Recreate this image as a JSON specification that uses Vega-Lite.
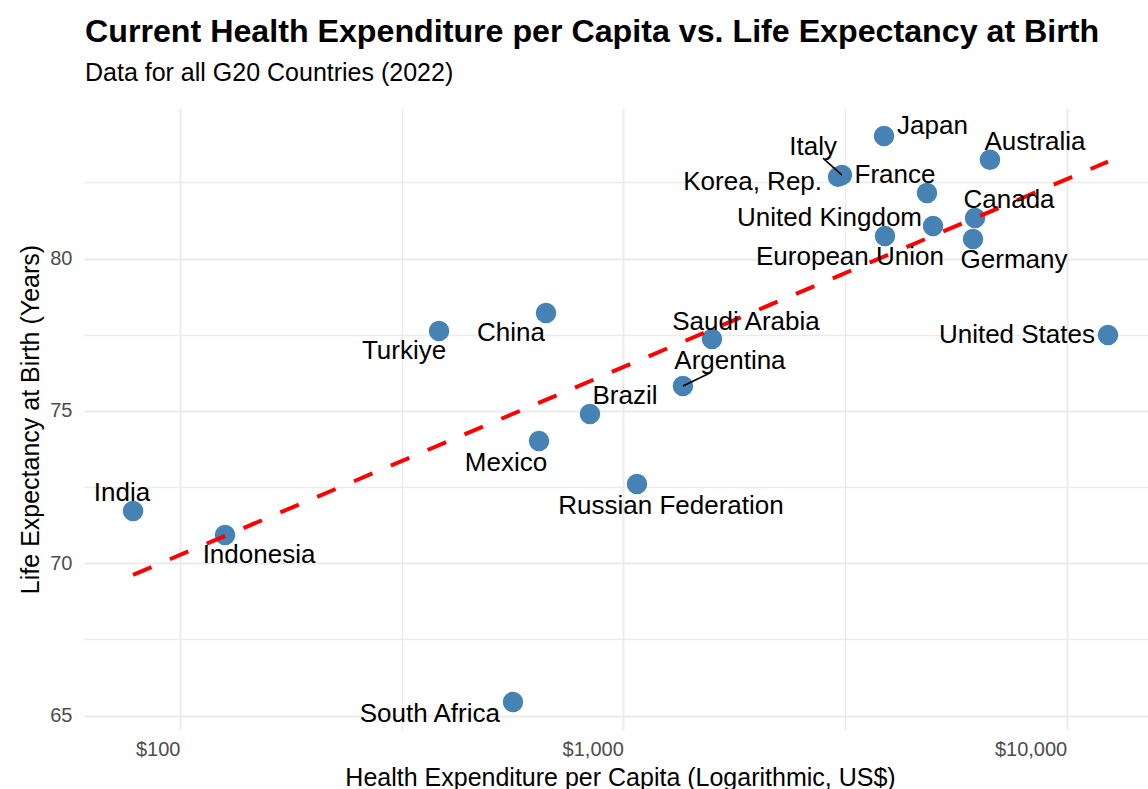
{
  "$schema": "https://vega.github.io/schema/vega-lite/v6.json",
  "width": 1064,
  "height": 622,
  "autosize": "none",
  "padding": {"left": 84, "top": 108, "right": 0, "bottom": 59},
  "background": "white",
  "title": {
    "text": "Current Health Expenditure per Capita vs. Life Expectancy at Birth",
    "subtitle": "Data for all G20 Countries (2022)",
    "anchor": "start",
    "frame": "group",
    "font": "Liberation Sans",
    "fontSize": 32.2,
    "fontWeight": "bold",
    "color": "#000000",
    "subtitleFont": "Liberation Sans",
    "subtitleFontSize": 25,
    "subtitleColor": "#000000",
    "subtitlePadding": 12,
    "offset": 21,
    "dx": 1
  },
  "config": {
    "view": {"stroke": null},
    "axis": {
      "labelFont": "Liberation Sans",
      "titleFont": "Liberation Sans",
      "labelColor": "#4d4d4d",
      "titleColor": "#000000",
      "labelFontSize": 20,
      "titleFontSize": 25,
      "titleFontWeight": "normal",
      "domain": false,
      "ticks": false,
      "gridColor": "#ebebeb"
    }
  },
  "datasets": {
    "countries": [
      {"country": "India", "expenditure": 78.4, "life": 71.72},
      {"country": "Indonesia", "expenditure": 126.4, "life": 70.93},
      {"country": "Turkiye", "expenditure": 384.1, "life": 77.62},
      {"country": "China", "expenditure": 669.4, "life": 78.21},
      {"country": "Mexico", "expenditure": 645.5, "life": 74.01},
      {"country": "Brazil", "expenditure": 841.1, "life": 74.9},
      {"country": "South Africa", "expenditure": 563.9, "life": 65.45},
      {"country": "Russian Federation", "expenditure": 1073.7, "life": 72.6},
      {"country": "Argentina", "expenditure": 1363.1, "life": 75.82},
      {"country": "Saudi Arabia", "expenditure": 1584.9, "life": 77.36},
      {"country": "United States", "expenditure": 12393, "life": 77.49},
      {"country": "Korea, Rep.", "expenditure": 3050, "life": 82.68},
      {"country": "Italy", "expenditure": 3113, "life": 82.74},
      {"country": "Japan", "expenditure": 3873, "life": 84.02},
      {"country": "France", "expenditure": 4841, "life": 82.15},
      {"country": "Australia", "expenditure": 6714, "life": 83.24},
      {"country": "Canada", "expenditure": 6213, "life": 81.33},
      {"country": "United Kingdom", "expenditure": 4995, "life": 81.07},
      {"country": "European Union", "expenditure": 3892, "life": 80.74},
      {"country": "Germany", "expenditure": 6149, "life": 80.64}
    ],
    "fit": [
      {"expenditure": 78.4, "life": 69.62},
      {"expenditure": 12393, "life": 83.18}
    ]
  },
  "data": {"name": "countries"},
  "encoding": {
    "x": {
      "field": "expenditure",
      "type": "quantitative",
      "scale": {"type": "log", "domain": [60.77, 15255], "nice": false, "zero": false},
      "axis": {
        "title": "Health Expenditure per Capita (Logarithmic, US$)",
        "values": [100, 316.228, 1000, 3162.28, 10000],
        "labelExpr": "datum.value == 100 ? '$100' : datum.value == 1000 ? '$1,000' : datum.value == 10000 ? '$10,000' : ''",
        "labelAlign": "right",
        "labelPadding": 9,
        "titlePadding": 6,
        "titleX": 536,
        "gridWidth": {"condition": {"test": "datum.value == 100 || datum.value == 1000 || datum.value == 10000", "value": 2}, "value": 1.4}
      }
    },
    "y": {
      "field": "life",
      "type": "quantitative",
      "scale": {"domain": [64.53, 84.94], "nice": false, "zero": false},
      "axis": {
        "title": "Life Expectancy at Birth (Years)",
        "values": [65, 67.5, 70, 72.5, 75, 77.5, 80, 82.5],
        "labelExpr": "datum.value % 5 == 0 ? datum.label : ''",
        "labelPadding": 12,
        "titlePadding": 6,
        "gridWidth": {"condition": {"test": "datum.value % 5 == 0", "value": 2}, "value": 1.4}
      }
    }
  },
  "layer": [
    {"mark": {"type": "circle", "size": 420, "color": "#4682B4", "opacity": 1}},
    {"data": {"name": "fit"}, "mark": {"type": "line", "color": "#FF0000", "strokeWidth": 4, "strokeDash": [20, 20]}},
    {"transform": [{"filter": "datum.country == 'Italy'"}], "mark": {"type": "rule", "color": "#000000", "strokeWidth": 1.6, "x2Offset": -19, "y2Offset": -17}, "encoding": {"x2": {"field": "expenditure"}, "y2": {"field": "life"}}},
    {"transform": [{"filter": "datum.country == 'Argentina'"}], "mark": {"type": "rule", "color": "#000000", "strokeWidth": 1.6, "x2Offset": 27, "y2Offset": -13}, "encoding": {"x2": {"field": "expenditure"}, "y2": {"field": "life"}}},
    {"transform": [{"filter": "datum.country == 'Japan'"}], "mark": {"type": "text", "align": "left", "baseline": "middle", "dx": 13, "dy": -10, "font": "Liberation Sans", "fontSize": 26, "color": "#000000"}, "encoding": {"text": {"field": "country"}}},
    {"transform": [{"filter": "datum.country == 'Australia'"}], "mark": {"type": "text", "align": "center", "baseline": "middle", "dx": 45, "dy": -18, "font": "Liberation Sans", "fontSize": 26, "color": "#000000"}, "encoding": {"text": {"field": "country"}}},
    {"transform": [{"filter": "datum.country == 'Italy'"}], "mark": {"type": "text", "align": "right", "baseline": "middle", "dx": -5, "dy": -28, "font": "Liberation Sans", "fontSize": 26, "color": "#000000"}, "encoding": {"text": {"field": "country"}}},
    {"transform": [{"filter": "datum.country == 'Korea, Rep.'"}], "mark": {"type": "text", "align": "right", "baseline": "middle", "dx": -16, "dy": 5, "font": "Liberation Sans", "fontSize": 26, "color": "#000000"}, "encoding": {"text": {"field": "country"}}},
    {"transform": [{"filter": "datum.country == 'France'"}], "mark": {"type": "text", "align": "center", "baseline": "middle", "dx": -32, "dy": -18, "font": "Liberation Sans", "fontSize": 26, "color": "#000000"}, "encoding": {"text": {"field": "country"}}},
    {"transform": [{"filter": "datum.country == 'Canada'"}], "mark": {"type": "text", "align": "center", "baseline": "middle", "dx": 34, "dy": -18, "font": "Liberation Sans", "fontSize": 26, "color": "#000000"}, "encoding": {"text": {"field": "country"}}},
    {"transform": [{"filter": "datum.country == 'United Kingdom'"}], "mark": {"type": "text", "align": "right", "baseline": "middle", "dx": -11, "dy": -8, "font": "Liberation Sans", "fontSize": 26, "color": "#000000"}, "encoding": {"text": {"field": "country"}}},
    {"transform": [{"filter": "datum.country == 'European Union'"}], "mark": {"type": "text", "align": "center", "baseline": "middle", "dx": -35, "dy": 21, "font": "Liberation Sans", "fontSize": 26, "color": "#000000"}, "encoding": {"text": {"field": "country"}}},
    {"transform": [{"filter": "datum.country == 'Germany'"}], "mark": {"type": "text", "align": "center", "baseline": "middle", "dx": 41, "dy": 21, "font": "Liberation Sans", "fontSize": 26, "color": "#000000"}, "encoding": {"text": {"field": "country"}}},
    {"transform": [{"filter": "datum.country == 'United States'"}], "mark": {"type": "text", "align": "right", "baseline": "middle", "dx": -13, "dy": 0, "font": "Liberation Sans", "fontSize": 26, "color": "#000000"}, "encoding": {"text": {"field": "country"}}},
    {"transform": [{"filter": "datum.country == 'Saudi Arabia'"}], "mark": {"type": "text", "align": "center", "baseline": "middle", "dx": 34, "dy": -17, "font": "Liberation Sans", "fontSize": 26, "color": "#000000"}, "encoding": {"text": {"field": "country"}}},
    {"transform": [{"filter": "datum.country == 'Argentina'"}], "mark": {"type": "text", "align": "center", "baseline": "middle", "dx": 47, "dy": -25, "font": "Liberation Sans", "fontSize": 26, "color": "#000000"}, "encoding": {"text": {"field": "country"}}},
    {"transform": [{"filter": "datum.country == 'Brazil'"}], "mark": {"type": "text", "align": "center", "baseline": "middle", "dx": 35, "dy": -18, "font": "Liberation Sans", "fontSize": 26, "color": "#000000"}, "encoding": {"text": {"field": "country"}}},
    {"transform": [{"filter": "datum.country == 'Mexico'"}], "mark": {"type": "text", "align": "center", "baseline": "middle", "dx": -33, "dy": 22, "font": "Liberation Sans", "fontSize": 26, "color": "#000000"}, "encoding": {"text": {"field": "country"}}},
    {"transform": [{"filter": "datum.country == 'China'"}], "mark": {"type": "text", "align": "center", "baseline": "middle", "dx": -35, "dy": 20, "font": "Liberation Sans", "fontSize": 26, "color": "#000000"}, "encoding": {"text": {"field": "country"}}},
    {"transform": [{"filter": "datum.country == 'Turkiye'"}], "mark": {"type": "text", "align": "center", "baseline": "middle", "dx": -35, "dy": 20, "font": "Liberation Sans", "fontSize": 26, "color": "#000000"}, "encoding": {"text": {"field": "country"}}},
    {"transform": [{"filter": "datum.country == 'Russian Federation'"}], "mark": {"type": "text", "align": "center", "baseline": "middle", "dx": 34, "dy": 22, "font": "Liberation Sans", "fontSize": 26, "color": "#000000"}, "encoding": {"text": {"field": "country"}}},
    {"transform": [{"filter": "datum.country == 'South Africa'"}], "mark": {"type": "text", "align": "right", "baseline": "middle", "dx": -13, "dy": 12, "font": "Liberation Sans", "fontSize": 26, "color": "#000000"}, "encoding": {"text": {"field": "country"}}},
    {"transform": [{"filter": "datum.country == 'India'"}], "mark": {"type": "text", "align": "center", "baseline": "middle", "dx": -11, "dy": -18, "font": "Liberation Sans", "fontSize": 26, "color": "#000000"}, "encoding": {"text": {"field": "country"}}},
    {"transform": [{"filter": "datum.country == 'Indonesia'"}], "mark": {"type": "text", "align": "center", "baseline": "middle", "dx": 34, "dy": 20, "font": "Liberation Sans", "fontSize": 26, "color": "#000000"}, "encoding": {"text": {"field": "country"}}}
  ]
}
